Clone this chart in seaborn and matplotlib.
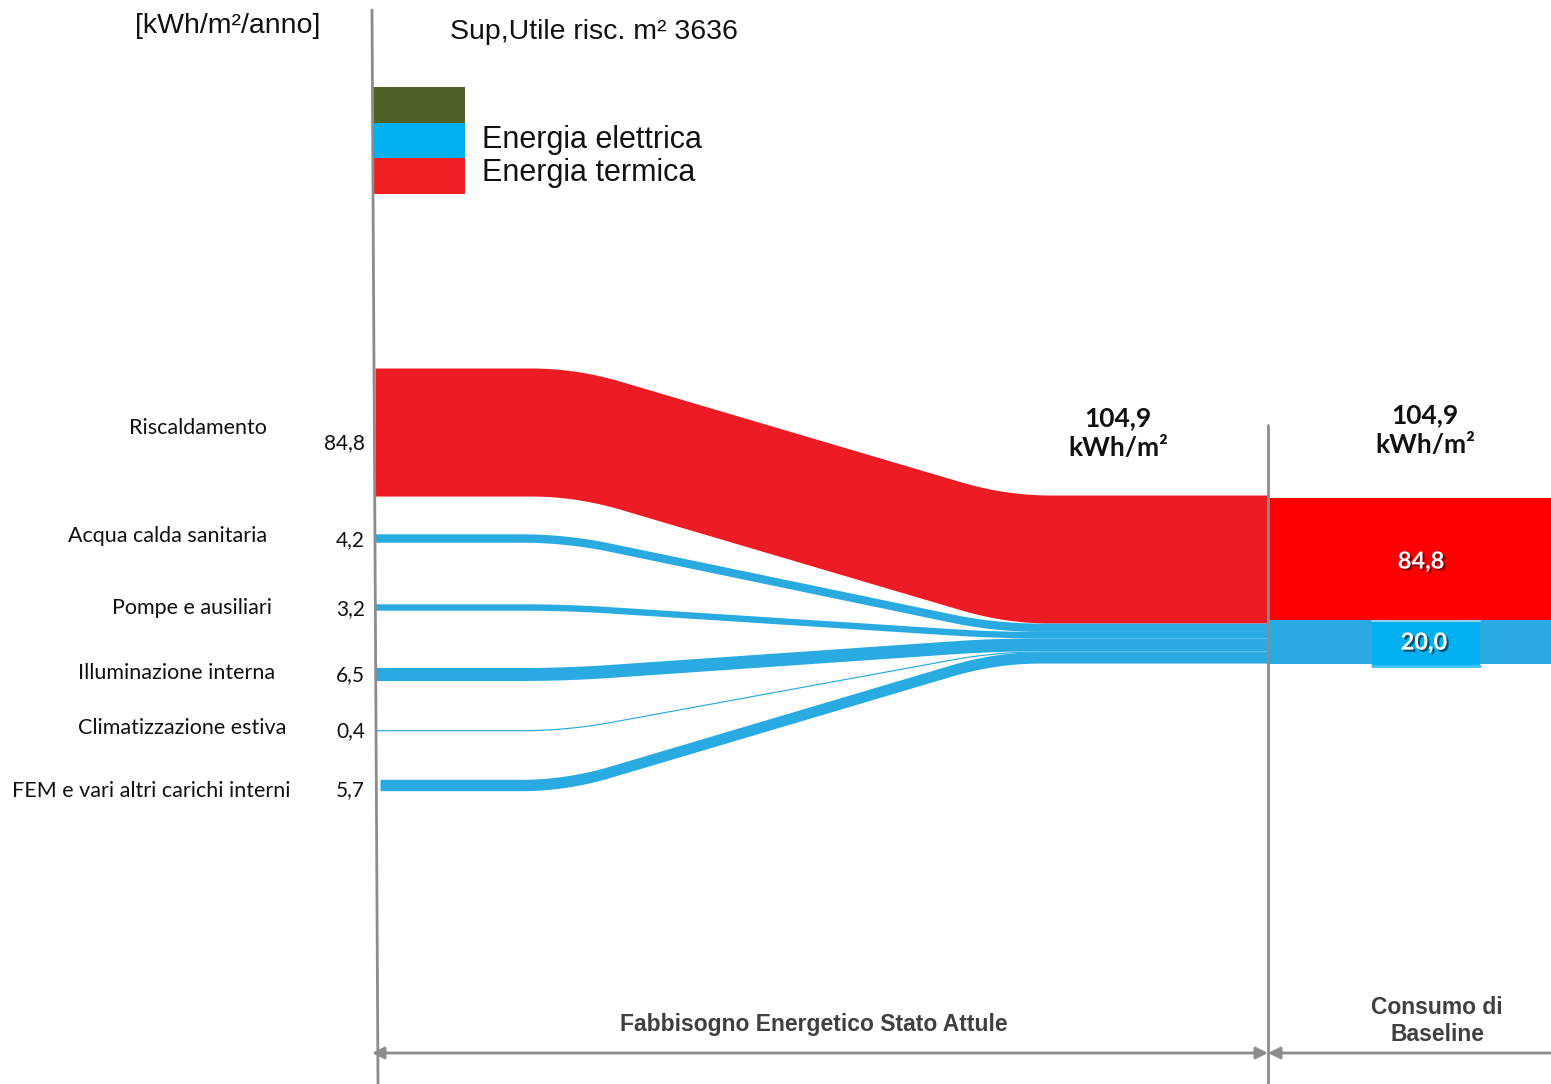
import numpy as np
import matplotlib
matplotlib.use("Agg")
import matplotlib.pyplot as plt
import matplotlib.patheffects as pe
from matplotlib.patches import Rectangle
import seaborn as sns

sns.set_theme(style="white")
plt.rcParams['font.family'] = ['Lato', 'DejaVu Sans']

# ---- data ----
uses = ["Riscaldamento", "Acqua calda sanitaria", "Pompe e ausiliari",
        "Illuminazione interna", "Climatizzazione estiva", "FEM e vari altri carichi interni"]
values = [84.8, 4.2, 3.2, 6.5, 0.4, 5.7]
carrier = ["termica", "elettrica", "elettrica", "elettrica", "elettrica", "elettrica"]
total_label = "104,9\nkWh/m²"
baseline_termica = 84.8
baseline_elettrica = 20.0

colors = {"termica": "#ED1C24", "elettrica": "#29ABE2"}
px_per_unit = {"termica": 1.51, "elettrica": 2.0}

# layout (pixel space)
W, H = 1551, 1084
row_y = [368, 538, 607, 674, 730, 785]    # left band top (red) / centre (blue)
name_x = [267, 267, 272, 275, 286, 290]
name_y = [428, 536, 608, 673, 728, 791]
value_y = [443, 540, 609, 675, 731, 790]
x_left, x_merge, x_split = 375, 1268, 1268
arial = ["Liberation Sans", "DejaVu Sans"]

fig = plt.figure(figsize=(W / 100, H / 100), dpi=100)
ax = fig.add_axes([0, 0, 1, 1])
ax.set_xlim(0, W)
ax.set_ylim(H, 0)
ax.axis("off")


def bend(xs, xa, xb, w=90):
    # linear ramp with rounded corners (box-smoothed)
    fine = np.arange(0, W + 1, 1.0)
    ramp = np.clip((fine - xa) / (xb - xa), 0, 1)
    k = np.ones(w) / w
    pad = np.concatenate([np.zeros(w), ramp, np.ones(w)])
    sm = np.convolve(pad, k, mode="same")[w:-w]
    return np.interp(xs, fine, sm)


# ---- flows ----
right_top = 495
y_stack = right_top
for i, (u, v, c) in enumerate(zip(uses, values, carrier)):
    th = v * px_per_unit[c]
    if c == "termica":
        y0_top = row_y[i]
        xa, xb = 575, 1005
    else:
        y0_top = row_y[i] - th / 2
        xa, xb = 565, 995
    y1_top = y_stack
    y_stack += th
    x0 = 380 if i == len(uses) - 1 else x_left
    xs = np.linspace(x0, x_merge, 800)
    top = y0_top + (y1_top - y0_top) * bend(xs, xa, xb)
    ax.fill_between(xs, top, top + max(th, 1.2), color=colors[c], lw=0)

    ax.text(name_x[i], name_y[i], u, ha="right", va="center", fontsize=15.5, color="#111111")
    ax.text(365, value_y[i], f"{v:.1f}".replace(".", ","),
            ha="right", va="center", fontsize=15, color="#111111")

# ---- baseline block ----
red_h = baseline_termica * 1.44
blue_h = baseline_elettrica * 2.2
ax.add_patch(Rectangle((x_split, 498), W - x_split, red_h, color="#FF0000", lw=0))
ax.add_patch(Rectangle((x_split, 498 + red_h), W - x_split, blue_h, color="#29ABE2", lw=0))
ax.add_patch(Rectangle((1372, 498 + red_h + 2), 108, blue_h, color="#00B0F0", lw=0))
ax.plot([1372, 1480], [498 + red_h + 1, 498 + red_h + 1], color="#8FD3F0", lw=1.5)
ax.plot([1372, 1480], [498 + red_h + blue_h + 2, 498 + red_h + blue_h + 2], color="#3CC3F5", lw=2)
ax.text(1421, 498 + red_h / 2 + 2, f"{baseline_termica:.1f}".replace(".", ","), ha="center", va="center",
        fontsize=17, fontweight="bold", color="white",
        path_effects=[pe.withSimplePatchShadow(offset=(1.5, -1.5), shadow_rgbFace="#8B0000", alpha=1)])
ax.text(1424, 498 + red_h + blue_h / 2, f"{baseline_elettrica:.1f}".replace(".", ","), ha="center", va="center",
        fontsize=17, fontweight="bold", color="white",
        path_effects=[pe.withSimplePatchShadow(offset=(1.5, -1.5), shadow_rgbFace="#0B4F6C", alpha=1)])

# totals
ax.text(1118, 433, total_label, ha="center", va="center", fontsize=19, fontweight="bold",
        color="#111111", linespacing=1.3)
ax.text(1425, 430, total_label, ha="center", va="center", fontsize=19, fontweight="bold",
        color="#111111", linespacing=1.3)

# ---- frame lines and arrows ----
grey = "#8C8C8C"
ax.plot([372, 378], [10, H], color=grey, lw=2)
ax.plot([1268, 1268], [425, H], color=grey, lw=2)
ax.annotate("", xy=(372, 1053), xytext=(1268, 1053),
            arrowprops=dict(arrowstyle="<|-|>", color=grey, lw=2, mutation_scale=18,
                            shrinkA=0, shrinkB=0))
ax.annotate("", xy=(1268, 1053), xytext=(W, 1053),
            arrowprops=dict(arrowstyle="-|>", color=grey, lw=2, mutation_scale=18,
                            shrinkA=0, shrinkB=0))

ax.text(814, 1024, "Fabbisogno Energetico Stato Attule", ha="center", va="center",
        fontsize=16.5, fontweight="bold", color="#404040", family=arial)
ax.text(1437, 1021, "Consumo di\nBaseline", ha="center", va="center", fontsize=16.5,
        fontweight="bold", color="#404040", family=arial, linespacing=1.2)

# ---- header and legend ----
ax.text(320, 26, "[kWh/m²/anno]", ha="right", va="center", fontsize=20.5,
        color="#111111", family=arial)
ax.text(450, 32, "Sup,Utile risc. m² 3636", ha="left", va="center", fontsize=20.5,
        color="#111111", family=arial)

legend_cols = ["#4F6228", "#00B0F0", "#EE2024"]
legend_txt = ["", "Energia elettrica", "Energia termica"]
for k, (lc, lt) in enumerate(zip(legend_cols, legend_txt)):
    ax.add_patch(Rectangle((373, 87 + 35.5 * k), 92, 35.5, color=lc, lw=0))
    if lt:
        ax.text(482, 140 + 33 * (k - 1), lt, ha="left", va="center", fontsize=22,
                color="#111111", family=arial)

fig.savefig("out.png", dpi=100)
